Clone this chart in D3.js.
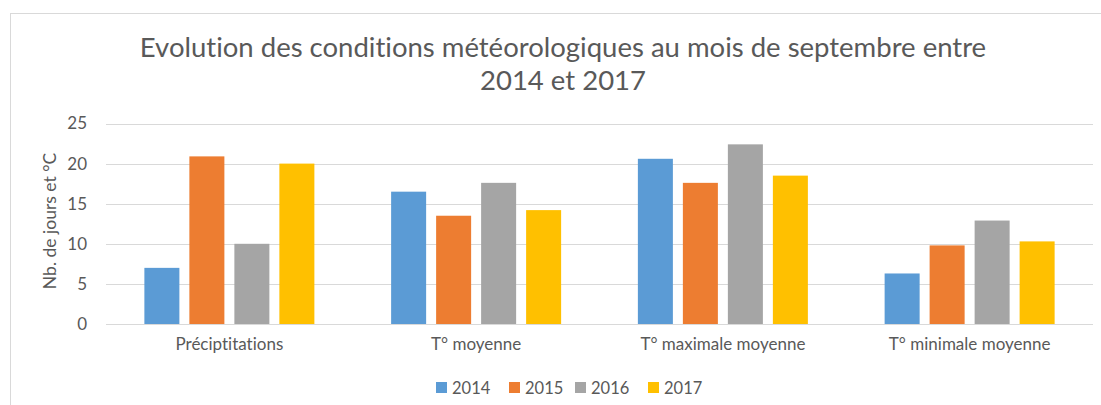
<!DOCTYPE html>
<html><head><meta charset="utf-8">
<script src="https://cdn.jsdelivr.net/npm/d3@7"></script>
<style>body{margin:0;background:#fff}svg{display:block}text{font-family:Lato,"Open Sans",sans-serif;fill:#595959;font-variant-ligatures:none}</style>
</head><body>
<svg id="c" width="1101" height="405"></svg>
<script>
const categories = ["Préciptitations","T° moyenne","T° maximale moyenne","T° minimale moyenne"];
const years = ["2014","2015","2016","2017"];
const v2014 = [7, 16.5, 20.6, 6.3];
const v2015 = [20.9, 13.5, 17.6, 9.8];
const v2016 = [10, 17.6, 22.4, 12.9];
const v2017 = [20, 14.2, 18.5, 10.3];
const yTicks = [0,5,10,15,20,25];
const colors = ["#5B9BD5","#ED7D31","#A5A5A5","#FFC000"];
const titleLines = ["Evolution des conditions météorologiques au mois de septembre entre","2014 et 2017"];
const yTitle = "Nb. de jours et °C";

const series = [v2014,v2015,v2016,v2017];
const svg = d3.select("#c");
svg.append("rect").attr("x",10.5).attr("y",13.5).attr("width",1200).attr("height",500)
  .attr("fill","#fff").attr("stroke","#d9d9d9");

const x0 = d3.scaleBand().domain(categories).range([106,1093]).padding(0);
const y = d3.scaleLinear().domain([0,25]).range([324,123.5]);
const x1 = d3.scaleBand().domain(years).range([-85,85]).paddingInner(0.222).paddingOuter(0);

svg.append("g").selectAll("line").data(yTicks).join("line")
  .attr("x1",106).attr("x2",1093).attr("y1",d=>Math.round(y(d))+0.5).attr("y2",d=>Math.round(y(d))+0.5)
  .attr("stroke","#d9d9d9").attr("stroke-width",1);

const yAxis = d3.axisLeft(y).tickValues(yTicks).tickSize(0).tickPadding(0);
const ya = svg.append("g").attr("transform","translate(87,0)").call(yAxis);
ya.select(".domain").remove();
ya.selectAll("text").style("font-size","17px").attr("fill","#595959").attr("font-family","Lato");

const groups = svg.selectAll("g.cat").data(categories).join("g").attr("class","cat")
  .attr("transform",d=>`translate(${x0(d)+x0.bandwidth()/2},0)`);
groups.selectAll("rect").data((d,i)=>years.map((yr,j)=>({yr,j,v:series[j][i]}))).join("rect")
  .attr("x",d=>x1(d.yr)).attr("width",x1.bandwidth())
  .attr("y",d=>y(d.v)).attr("height",d=>y(0)-y(d.v))
  .attr("fill",d=>colors[d.j]);

const xAxis = d3.axisBottom(x0).tickSize(0).tickPadding(0);
const xa = svg.append("g").attr("transform","translate(0,338)").call(xAxis);
xa.select(".domain").remove();
xa.selectAll("text").style("font-size","17px").attr("fill","#595959").attr("font-family","Lato");

svg.append("text").attr("transform","translate(56,221) rotate(-90)").attr("text-anchor","middle")
  .style("font-size","17.5px").text(yTitle);

svg.selectAll("text.title").data(titleLines).join("text").attr("class","title")
  .attr("x",563).attr("y",(d,i)=>57+i*33).attr("text-anchor","middle")
  .style("font-size","27.5px").text(d=>d);

const legX = [436,509,575,648];
const leg = svg.selectAll("g.leg").data(years).join("g").attr("class","leg").attr("transform",(d,i)=>`translate(${legX[i]},382)`);
leg.append("rect").attr("width",11).attr("height",11).attr("y",0).attr("fill",(d,i)=>colors[i]);
leg.append("text").attr("x",16).attr("y",12).style("font-size","16.5px").text(d=>d);
</script>
</body></html>
